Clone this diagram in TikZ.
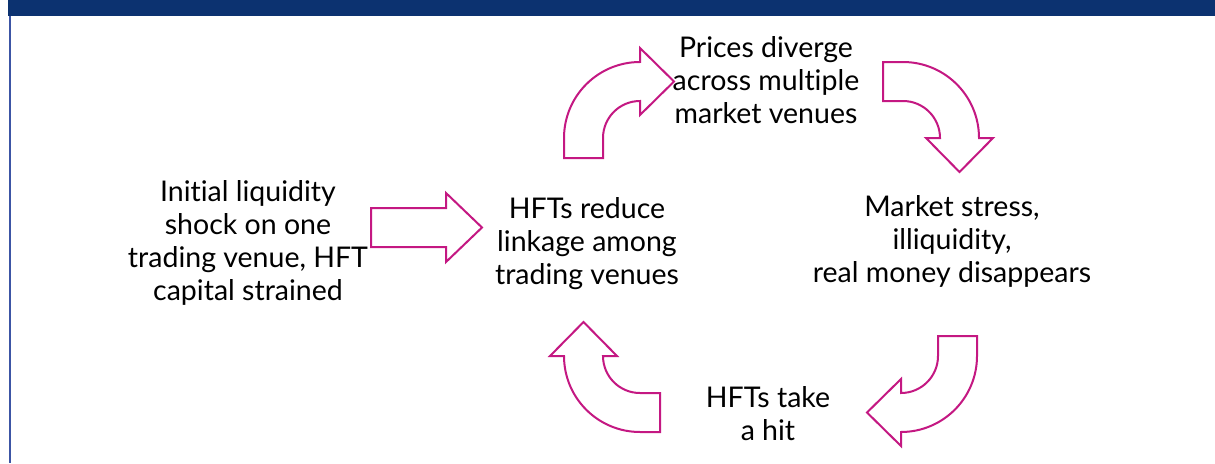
\documentclass[tikz,border=0pt]{standalone}
\usepackage{fontspec}
\setmainfont{Lato}[Ligatures={NoCommon,NoRare}]
\definecolor{hdrblue}{RGB}{12,50,112}
\definecolor{edgeblue}{RGB}{60,85,165}
\definecolor{arrowmag}{RGB}{196,24,130}
\begin{document}
\begin{tikzpicture}[x=1pt,y=-1pt,
  blockarrow/.style={draw=arrowmag,line width=2pt,fill=white,line join=miter},
  label/.style={align=center,font=\fontsize{28.5}{33}\selectfont,inner sep=0pt,text=black}]
\useasboundingbox (0,0) rectangle (1215,463);
\fill[white] (0,0) rectangle (1215,463);
% header bar and left edge
\fill[hdrblue] (8,0) rectangle (1215,16);
\draw[edgeblue,line width=1.3pt] (10,16) -- (10,463);
% curved arrow shape (local, y up, centre at origin)
\newcommand{\curvedarrowshape}{%
  (-76pt,-20pt) -- (-76pt,0pt) arc[start angle=180,end angle=90,radius=76pt]
  -- (0pt,90pt) -- (34pt,56.5pt) -- (0pt,23pt) -- (0pt,37pt)
  arc[start angle=90,end angle=180,radius=37pt] -- (-37pt,-20pt) -- cycle}
\begin{scope}[shift={(640,138)}]
  \draw[blockarrow] \curvedarrowshape;
\end{scope}
\begin{scope}[shift={(903,138)},rotate=-90]
  \draw[blockarrow] \curvedarrowshape;
\end{scope}
\begin{scope}[shift={(901,356)},rotate=180]
  \draw[blockarrow] \curvedarrowshape;
\end{scope}
\begin{scope}[shift={(640,356)},rotate=90]
  \draw[blockarrow] \curvedarrowshape;
\end{scope}
% straight arrow
\draw[blockarrow] (371,208) -- (446,208) -- (446,193) -- (482,227.5)
  -- (446,262) -- (446,247) -- (371,247) -- cycle;
% texts
\node[label] (shock) at (248,243) {Initial liquidity\\shock on one\\trading venue, HFT\\capital strained};
\node[label] (reduce) at (587,244) {HFTs reduce\\linkage among\\trading venues};
\node[label] (prices) at (766,80) {Prices diverge\\across multiple\\market venues};
\node[label] (stress) at (952,241) {Market stress,\\illiquidity,\\real money disappears};
\node[label] (hit) at (768,414) {HFTs take\\a hit};
\end{tikzpicture}
\end{document}
